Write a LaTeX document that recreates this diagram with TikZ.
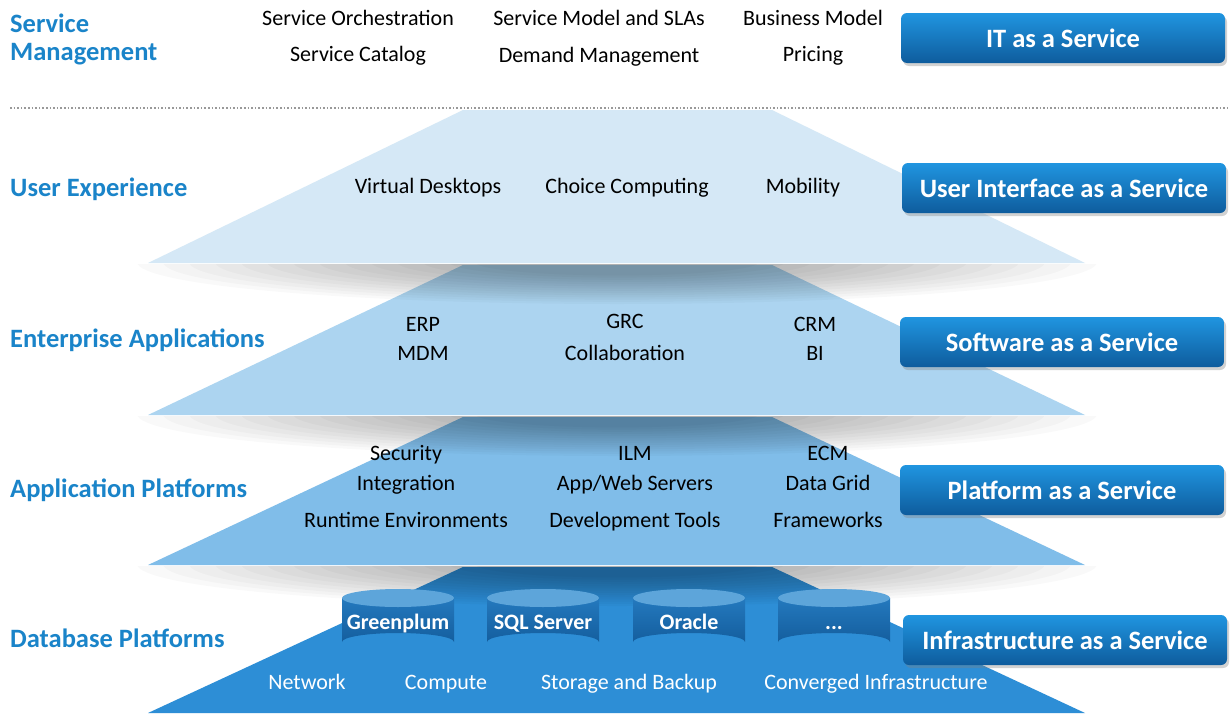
\documentclass[tikz,border=0pt]{standalone}
\usepackage{fontspec}
\setmainfont{Carlito}
\usetikzlibrary{shadows}
\definecolor{lblue}{HTML}{1A84C9}
\definecolor{trA}{HTML}{D5E8F6}
\definecolor{trB}{HTML}{ACD4F0}
\definecolor{trC}{HTML}{80BDE9}
\definecolor{trD}{HTML}{2D8ED6}
\definecolor{btnTop}{HTML}{2095E0}
\definecolor{btnBot}{HTML}{0E5C9D}
\definecolor{cylTop}{HTML}{5DA5DA}
\definecolor{cylA}{HTML}{2479BE}
\definecolor{cylB}{HTML}{145E9E}
\newcommand\traplayer[3]{\fill[#1] (463,#2) -- (772,#2) -- (1085,#3) -- (148,#3) -- cycle;}
\newcommand\layershadow[1]{%
  \begin{scope}
    \clip (100,#1) rectangle (1130,#1+60);
    \foreach \k in {0,...,13}{
      \fill[black, opacity=0.023] (617,#1-2) ellipse[x radius={480-\k*26}, y radius={42-\k*2.2}];
    }
  \end{scope}}
\newcommand\dbcyl[3]{%
  \shade[top color=cylA, bottom color=cylB] (#2-56,598) -- (#2-56,642)
     arc[start angle=180, end angle=360, x radius=56, y radius=9] -- (#2+56,598) -- cycle;
  \fill[cylTop] (#2,598) ellipse[x radius=56, y radius=9];
  \node[dbtext] (#1) at (#2,624) {#3};}
\begin{document}
\begin{tikzpicture}[x=1pt, y=-1pt,
  sidelabel/.style={anchor=west, text=lblue, font=\fontsize{26.5}{29}\selectfont\bfseries, inner sep=0pt},
  item/.style={font=\fontsize{22}{25}\selectfont, text=black, inner sep=0pt, text height=15pt, text depth=5pt},
  itemw/.style={font=\fontsize{22}{25}\selectfont, text=white, inner sep=0pt, text height=15pt, text depth=5pt},
  dbtext/.style={font=\fontsize{22}{25}\selectfont\bfseries, text=white, inner sep=0pt, text height=15pt, text depth=5pt},
  svcbtn/.style={rounded corners=6pt, top color=btnTop, bottom color=btnBot,
     minimum width=324pt, minimum height=50pt, text=white, inner sep=0pt,
     font=\fontsize{26.5}{29}\selectfont\bfseries,
     drop shadow={shadow xshift=2pt, shadow yshift=-3pt, opacity=0.35}}]
\useasboundingbox (0,0) rectangle (1231,715);
\fill[white] (0,0) rectangle (1231,715);

% layers
\traplayer{trA}{110}{263}
\traplayer{trB}{265}{415}
\traplayer{trC}{417}{565}
\traplayer{trD}{567}{713}
\layershadow{264}
\layershadow{416}
\layershadow{566}

% dotted separator
\draw[gray!80, dotted, line width=1.6pt] (10,108) -- (1228,108);

% side labels
\node[sidelabel] (sm1) at (10,23) {Service};
\node[sidelabel] (sm2) at (10,54) {Management};
\node[sidelabel] (ux) at (10,189) {User Experience};
\node[sidelabel] (ea) at (10,340) {Enterprise Applications};
\node[sidelabel] (ap) at (10,490) {Application Platforms};
\node[sidelabel] (dp) at (10,638) {Database Platforms};

% service management items
\node[item] (so) at (358,20) {Service Orchestration};
\node[item] (sc) at (358,56) {Service Catalog};
\node[item] (sms) at (599,20) {Service Model and SLAs};
\node[item] (dm) at (599,57) {Demand Management};
\node[item] (bm) at (813,20) {Business Model};
\node[item] (pr) at (813,56) {Pricing};

% user experience
\node[item] (vd) at (428,188) {Virtual Desktops};
\node[item] (cc) at (627,188) {Choice Computing};
\node[item] (mo) at (803,188) {Mobility};

% enterprise applications
\node[item] (erp) at (423,326) {ERP};
\node[item] (mdm) at (423,355) {MDM};
\node[item] (grc) at (625,323) {GRC};
\node[item] (col) at (625,355) {Collaboration};
\node[item] (crm) at (815,326) {CRM};
\node[item] (bi) at (815,355) {BI};

% application platforms
\node[item] (sec) at (406,455) {Security};
\node[item] (int) at (406,485) {Integration};
\node[item] (rte) at (406,522) {Runtime Environments};
\node[item] (ilm) at (635,455) {ILM};
\node[item] (aws) at (635,485) {App/Web Servers};
\node[item] (dev) at (635,522) {Development Tools};
\node[item] (ecm) at (828,455) {ECM};
\node[item] (dg) at (828,485) {Data Grid};
\node[item] (fw) at (828,522) {Frameworks};

% database cylinders
\dbcyl{gp}{398}{Greenplum}
\dbcyl{sql}{543}{SQL Server}
\dbcyl{ora}{689}{Oracle}
\dbcyl{etc}{834}{...}

% infrastructure items
\node[itemw] (net) at (307,684) {Network};
\node[itemw] (cmp) at (446,684) {Compute};
\node[itemw] (stb) at (629,684) {Storage and Backup};
\node[itemw] (cvi) at (876,684) {Converged Infrastructure};

% service buttons
\node[svcbtn] (itaas) at (1063,38) {IT as a Service};
\node[svcbtn] (uiaas) at (1064,188) {User Interface as a Service};
\node[svcbtn] (saas) at (1062,342) {Software as a Service};
\node[svcbtn] (paas) at (1062,490) {Platform as a Service};
\node[svcbtn] (iaas) at (1065,640) {Infrastructure as a Service};
\end{tikzpicture}
\end{document}
